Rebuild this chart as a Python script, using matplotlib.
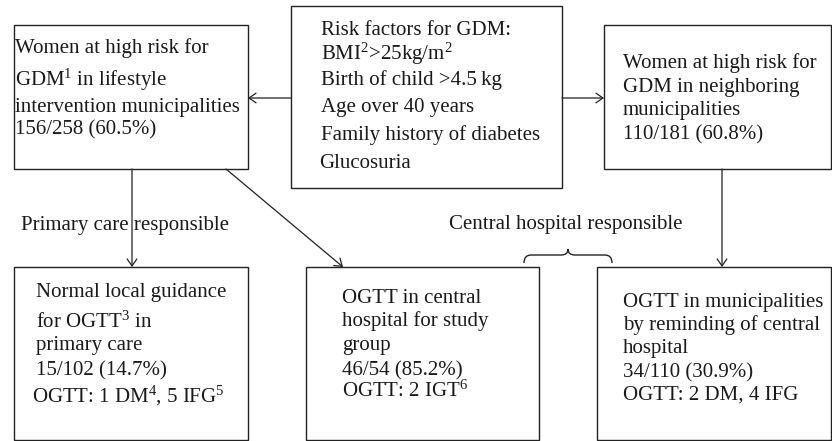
import matplotlib
matplotlib.use("Agg")
import matplotlib.pyplot as plt
from matplotlib.patches import Rectangle, PathPatch
from matplotlib.path import Path

plt.rcParams['font.family'] = ['Liberation Serif', 'DejaVu Serif']
plt.rcParams['mathtext.fontset'] = 'custom'
plt.rcParams['mathtext.rm'] = 'Liberation Serif'
plt.rcParams['mathtext.it'] = 'Liberation Serif:italic'

# box texts, one entry per line
risk_lines = ["Risk factors for GDM:", "BMI$^2$>25kg/m$^2$", "Birth of child >4.5\u2009kg",
              "Age over 40 years", "Family history of diabetes", "Glucosuria"]
lifestyle_lines = ["Women at high risk for", "GDM$^1$ in lifestyle",
                   "intervention municipalities", "156/258 (60.5%)"]
neighbor_lines = ["Women at high risk for", "GDM in neighboring",
                  "municipalities", "110/181 (60.8%)"]
primary_lines = ["Normal local guidance", "for OGTT$^3$ in", "primary care",
                 "15/102 (14.7%)", "OGTT: 1 DM$^4$, 5 IFG$^5$"]
central_lines = ["OGTT in central", "hospital for study", "group",
                 "46/54 (85.2%)", "OGTT: 2 IGT$^6$"]
remind_lines = ["OGTT in municipalities", "by reminding of central", "hospital",
                "34/110 (30.9%)", "OGTT: 2 DM, 4 IFG"]
side_labels = ["Primary care responsible", "Central hospital responsible"]

fig = plt.figure(figsize=(8.32, 4.41), dpi=100)
ax = fig.add_axes([0, 0, 1, 1])
ax.set_xlim(0, 832)
ax.set_ylim(441, 0)
ax.axis('off')

fs = 15
ink = '#222222'


def box(x0, y0, x1, y1):
    ax.add_patch(Rectangle((x0, y0), x1 - x0, y1 - y0, fill=False,
                           ec=ink, lw=1.0))


def lines(x, ys, texts):
    for y, t in zip(ys, texts):
        ax.text(x, y, t, fontsize=fs, ha='left', va='baseline', color='#1a1a1a')


def arrow(x0, y0, x1, y1):
    ax.annotate('', xy=(x1, y1), xytext=(x0, y0),
                arrowprops=dict(arrowstyle='->,head_length=0.5,head_width=0.35',
                                color=ink, lw=0.9, shrinkA=0, shrinkB=0))


# top row
box(14, 25, 248, 169)
box(291, 6, 562, 188)
box(604, 25, 831, 169)
# bottom row
box(14, 267, 248, 440)
box(306, 267, 539, 440)
box(597, 267, 831, 440)

lines(321, [35, 60, 85, 112, 140], risk_lines[:5])
lines(319, [168], risk_lines[5:])
lines(15, [53, 86, 112, 134], lifestyle_lines)
lines(623, [68, 92, 115, 139], neighbor_lines)
lines(36, [297, 328, 350, 375], primary_lines[:4])
lines(32, [402], primary_lines[4:])
lines(342, [303, 326, 350, 375, 397], central_lines)
lines(623, [307, 330, 353, 377, 400], remind_lines)

arrow(291, 98, 248, 98)
arrow(562, 98, 604, 98)
arrow(132, 169, 132, 267)
arrow(226, 169, 343, 267)
arrow(722, 169, 722, 267)

ax.text(21, 230, side_labels[0], fontsize=fs, ha='left', va='baseline', color='#1a1a1a')
ax.text(449, 229, side_labels[1], fontsize=fs, ha='left', va='baseline', color='#1a1a1a')

# curly brace over the gap
verts = [(524, 263), (524, 255), (531, 255), (561, 255), (568, 255), (568, 249),
         (568, 255), (575, 255), (605, 255), (612, 255), (612, 263)]
codes = [Path.MOVETO, Path.CURVE3, Path.CURVE3, Path.LINETO, Path.CURVE3, Path.CURVE3,
         Path.CURVE3, Path.CURVE3, Path.LINETO, Path.CURVE3, Path.CURVE3]
ax.add_patch(PathPatch(Path(verts, codes), fill=False, ec=ink, lw=1.0))

fig.savefig('out.png', dpi=100)
